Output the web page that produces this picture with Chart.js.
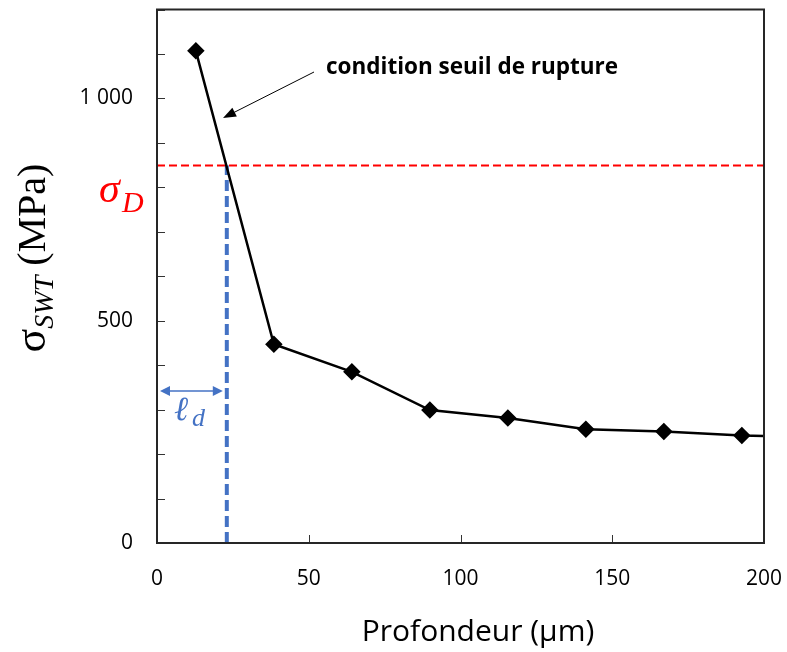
<!DOCTYPE html>
<html>
<head>
<meta charset="utf-8">
<script src="https://cdn.jsdelivr.net/npm/chart.js@4"></script>
<style>
  html, body { margin: 0; padding: 0; background: #fff; }
  #wrap { width: 787px; height: 652px; }
</style>
</head>
<body>
<div id="wrap"><canvas id="chart" width="787" height="652"></canvas></div>
<script>
// profondeur (µm) et contrainte SWT (MPa)
const depth = [12.8, 38.5, 64.2, 89.9, 115.6, 141.3, 167.0, 192.7, 218.4];
const sigmaSWT = [1107, 447, 385, 299, 281, 256, 251, 242, 237];
const sigmaD = 849;
const lD = 23;
const arrowY = 342;
const xTicks = [0, 50, 100, 150, 200];
const yLabelled = [0, 500, 1000];

const mainPts = depth.map((d, i) => ({ x: d, y: sigmaSWT[i] }));

// no extra room for overhanging labels
function noPad(s) {
    s.paddingTop = 0; s.paddingBottom = 0; s.paddingLeft = 0; s.paddingRight = 0;
}

const decor = {
    id: 'decor',
    afterDraw(chart) {
        const { ctx, chartArea: a, scales: { x, y } } = chart;
        ctx.save();
        // ticks inside
        ctx.strokeStyle = '#333';
        ctx.lineWidth = 1;
        y.ticks.forEach(t => {
            const py = Math.round(y.getPixelForValue(t.value)) + 0.5;
            ctx.beginPath(); ctx.moveTo(a.left, py); ctx.lineTo(a.left + 8, py); ctx.stroke();
        });
        xTicks.slice(1, -1).forEach(v => {
            const px = Math.round(x.getPixelForValue(v)) + 0.5;
            ctx.beginPath(); ctx.moveTo(px, a.bottom); ctx.lineTo(px, a.bottom - 8); ctx.stroke();
        });
        // frame
        ctx.strokeStyle = '#262626';
        ctx.lineWidth = 2;
        ctx.strokeRect(a.left, a.top, a.right - a.left, a.bottom - a.top);

        // double arrow l_d
        const blue = '#4472C4';
        const ay = y.getPixelForValue(arrowY);
        const ax0 = x.getPixelForValue(0) + 3, ax1 = x.getPixelForValue(lD) - 4;
        ctx.strokeStyle = blue; ctx.fillStyle = blue; ctx.lineWidth = 1.5;
        ctx.beginPath(); ctx.moveTo(ax0 + 8, ay); ctx.lineTo(ax1 - 8, ay); ctx.stroke();
        ctx.beginPath(); ctx.moveTo(ax0, ay); ctx.lineTo(ax0 + 10, ay - 5); ctx.lineTo(ax0 + 10, ay + 5); ctx.fill();
        ctx.beginPath(); ctx.moveTo(ax1, ay); ctx.lineTo(ax1 - 10, ay - 5); ctx.lineTo(ax1 - 10, ay + 5); ctx.fill();
        ctx.font = 'italic 34px "DejaVu Serif"';
        ctx.textBaseline = 'alphabetic';
        ctx.fillText('ℓ', 174, 420);
        ctx.font = 'italic 26px "Liberation Serif"';
        ctx.fillText('d', 192, 426);

        // sigma_D
        ctx.fillStyle = '#FF0000';
        ctx.font = 'italic 42px "Liberation Serif"';
        ctx.fillText('σ', 99, 202);
        ctx.font = 'italic 30px "Liberation Serif"';
        ctx.fillText('D', 122, 212);

        // annotation
        ctx.fillStyle = '#000';
        ctx.strokeStyle = '#000';
        ctx.lineWidth = 1;
        const tx = 223, ty = 118, sx = 314, sy = 72;
        const ang = Math.atan2(ty - sy, tx - sx);
        ctx.beginPath(); ctx.moveTo(sx, sy); ctx.lineTo(tx - 10 * Math.cos(ang), ty - 10 * Math.sin(ang)); ctx.stroke();
        ctx.beginPath();
        ctx.moveTo(tx, ty);
        ctx.lineTo(tx - 13 * Math.cos(ang) + 5 * Math.sin(ang), ty - 13 * Math.sin(ang) - 5 * Math.cos(ang));
        ctx.lineTo(tx - 13 * Math.cos(ang) - 5 * Math.sin(ang), ty - 13 * Math.sin(ang) + 5 * Math.cos(ang));
        ctx.fill();
        ctx.font = 'bold 22.5px "Open Sans"';
        ctx.fillText('condition seuil de rupture', 326, 74);

        // x title
        ctx.font = '30px "Open Sans"';
        ctx.textAlign = 'center';
        ctx.fillText('Profondeur (µm)', 478, 641);

        // y title rotated
        ctx.translate(45, 258);
        ctx.rotate(-Math.PI / 2);
        ctx.textAlign = 'left';
        const f1 = '44px "Liberation Serif"', f2 = 'italic 28px "Liberation Serif"', f3 = '40px "Liberation Serif"';
        ctx.font = f1; const w1 = ctx.measureText('σ').width;
        ctx.font = f2; const w2 = ctx.measureText('SWT').width;
        ctx.font = f3; const w3 = ctx.measureText(' (MPa)').width;
        let u = -(w1 + w2 + w3) / 2;
        ctx.font = f1; ctx.fillText('σ', u, 0); u += w1;
        ctx.font = f2; ctx.fillText('SWT', u, 8); u += w2;
        ctx.font = f3; ctx.fillText(' (MPa)', u, 0);
        ctx.restore();
    }
};

new Chart(document.getElementById('chart'), {
    type: 'scatter',
    data: {
        datasets: [
            {
                data: mainPts,
                showLine: true,
                borderColor: '#000',
                backgroundColor: '#000',
                borderWidth: 2.5,
                pointStyle: 'rectRot',
                pointRadius: 7,
                order: 0
            },
            {
                data: [{ x: 0, y: sigmaD }, { x: 200, y: sigmaD }],
                showLine: true,
                borderColor: '#FF0000',
                borderWidth: 2,
                borderDash: [8, 4],
                pointRadius: 0,
                order: 2
            },
            {
                data: [{ x: lD, y: 0 }, { x: lD, y: sigmaD }],
                showLine: true,
                borderColor: '#4472C4',
                borderWidth: 4,
                borderDash: [11, 5],
                pointRadius: 0,
                order: 1
            }
        ]
    },
    options: {
        responsive: false,
        animation: false,
        layout: { padding: { top: 7, right: 23, left: 0, bottom: 0 } },
        plugins: { legend: { display: false }, tooltip: { enabled: false } },
        scales: {
            x: {
                type: 'linear', min: 0, max: 200,
                grid: { display: false },
                border: { display: false },
                ticks: {
                    stepSize: 50, padding: 15,
                    color: '#000',
                    font: { family: 'Open Sans', size: 21 }
                },
                afterFit: s => { s.height = 109; noPad(s); }
            },
            y: {
                type: 'linear', min: 0, max: 1200,
                grid: { display: false },
                border: { display: false },
                ticks: {
                    stepSize: 100, padding: 16, autoSkip: false,
                    color: '#000',
                    font: { family: 'Open Sans', size: 21 },
                    callback: v => yLabelled.includes(v) ? v.toLocaleString('fr-FR').replace(/\s/g, ' ') : ''
                },
                afterFit: s => { s.width = 157; noPad(s); }
            }
        }
    },
    plugins: [decor]
});
</script>
</body>
</html>
